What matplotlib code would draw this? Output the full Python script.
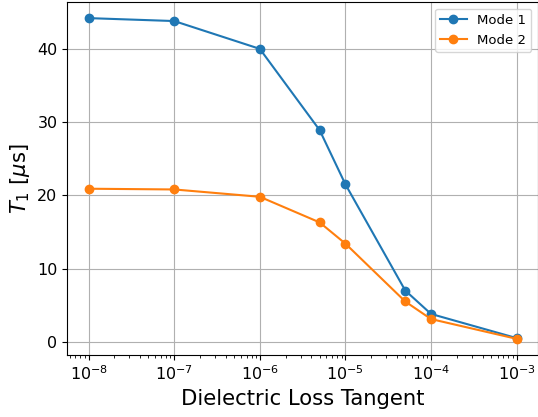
import matplotlib
matplotlib.use("Agg")
import matplotlib.pyplot as plt

# Loss tangent sweep and resulting T1 for each mode
loss_tangent = [1e-8, 1e-7, 1e-6, 5e-6, 1e-5, 5e-5, 1e-4, 1e-3]
t1_mode1 = [44.2, 43.8, 40.0, 28.9, 21.5, 7.0, 3.8, 0.5]
t1_mode2 = [20.9, 20.8, 19.8, 16.3, 13.4, 5.5, 3.1, 0.4]

fig, ax = plt.subplots(figsize=(5.38, 4.17), dpi=100)
fig.subplots_adjust(left=0.125, right=1.0, top=0.995, bottom=0.149)

ax.plot(loss_tangent, t1_mode1, "o-", label="Mode 1")
ax.plot(loss_tangent, t1_mode2, "o-", label="Mode 2")
ax.set_xscale("log")

ax.set_xlabel("Dielectric Loss Tangent", fontsize=15.2)
ax.set_ylabel(r"$T_1$ [$\mu$s]", fontsize=15.2)
ax.tick_params(axis="both", labelsize=11.5)
ax.grid(True)
ax.legend(fontsize=9.5)

fig.savefig("out.png", dpi=100)
